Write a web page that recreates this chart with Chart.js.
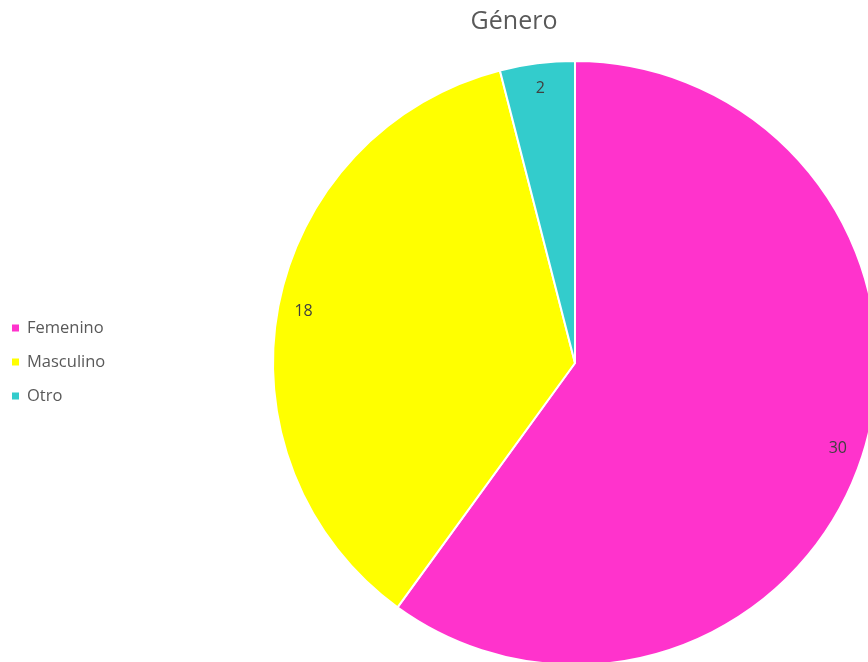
<!DOCTYPE html>
<html>
<head>
<meta charset="utf-8">
<script src="https://cdn.jsdelivr.net/npm/chart.js@4.4.0/dist/chart.umd.min.js"></script>
<style>
html,body{margin:0;padding:0;background:#fff;overflow:hidden;width:868px;height:662px;}
#wrap{position:absolute;left:0;top:0;width:900px;height:666px;}
</style>
</head>
<body>
<div id="wrap"><canvas id="c" width="900" height="666"></canvas></div>
<script>
const titleText = "Género";
const categories = ["Femenino", "Masculino", "Otro"];
const values = [30, 18, 2];
const colors = ["#FF33CC", "#FFFF00", "#33CCCC"];

const overlay = {
  id: 'overlay',
  afterDraw(chart) {
    const ctx = chart.ctx;
    ctx.save();
    // title
    ctx.fillStyle = '#595959';
    ctx.font = '25px "Open Sans", "Noto Sans", sans-serif';
    ctx.textAlign = 'center';
    ctx.textBaseline = 'middle';
    ctx.fillText(titleText, 514, 22);
    // legend
    ctx.font = '16.5px "Open Sans", "Noto Sans", sans-serif';
    ctx.textAlign = 'left';
    categories.forEach((c, i) => {
      const y = 328 + i * 34;
      ctx.fillStyle = colors[i];
      ctx.fillRect(12, y - 3.5, 7, 7);
      ctx.fillStyle = '#595959';
      ctx.fillText(c, 27, y);
    });
    // data labels
    const meta = chart.getDatasetMeta(0);
    ctx.fillStyle = '#404040';
    ctx.font = '16px "Open Sans", "Noto Sans", sans-serif';
    ctx.textAlign = 'center';
    meta.data.forEach((arc, i) => {
      const p = arc.getProps(['x','y','startAngle','endAngle','outerRadius'], true);
      const a = (p.startAngle + p.endAngle) / 2;
      const r = p.outerRadius * 0.915;
      ctx.fillText(String(values[i]), p.x + Math.cos(a) * r, p.y + Math.sin(a) * r);
    });
    ctx.restore();
  }
};

new Chart(document.getElementById('c'), {
  type: 'pie',
  data: {
    labels: categories,
    datasets: [{
      data: values,
      backgroundColor: colors,
      borderColor: '#ffffff',
      borderWidth: 2,
      hoverOffset: 0
    }]
  },
  options: {
    responsive: false,
    animation: false,
    layout: { padding: { left: 272, right: 22, top: 60, bottom: 0 } },
    plugins: {
      legend: { display: false },
      title: { display: false },
      tooltip: { enabled: false }
    }
  },
  plugins: [overlay]
});
</script>
</body>
</html>
